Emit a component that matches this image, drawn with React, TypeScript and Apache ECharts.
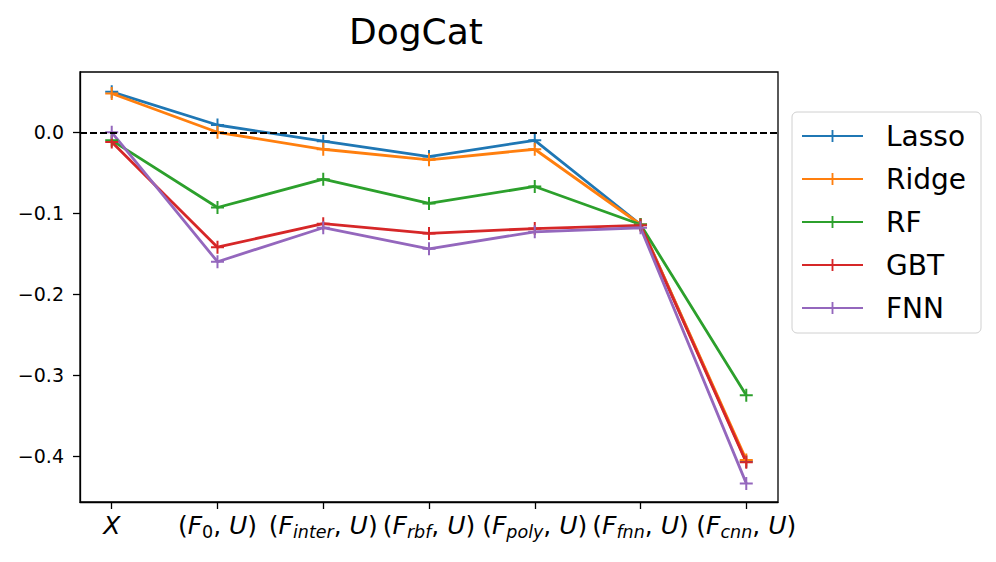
import React, { useEffect, useRef } from "react";
import * as echarts from "echarts";

const categories = ["X", "(F0,U)", "(Finter,U)", "(Frbf,U)", "(Fpoly,U)", "(Ffnn,U)", "(Fcnn,U)"];
const categoryLabels = [
  "{i|X}",
  "{n|(}{i|F}{s|0}{n|,}{i| U}{n|)}",
  "{n|(}{i|F}{si|inter}{n|,}{i| U}{n|)}",
  "{n|(}{i|F}{si|rbf}{n|,}{i| U}{n|)}",
  "{n|(}{i|F}{si|poly}{n|,}{i| U}{n|)}",
  "{n|(}{i|F}{si|fnn}{n|,}{i| U}{n|)}",
  "{n|(}{i|F}{si|cnn}{n|,}{i| U}{n|)}",
];
const seriesNames = ["Lasso", "Ridge", "RF", "GBT", "FNN"];
const lasso = [0.05, 0.009, -0.011, -0.03, -0.01, -0.114, -0.407];
const ridge = [0.048, 0.0, -0.021, -0.034, -0.021, -0.114, -0.405];
const rf = [-0.01, -0.093, -0.058, -0.088, -0.067, -0.114, -0.325];
const gbt = [-0.012, -0.142, -0.113, -0.125, -0.119, -0.115, -0.408];
const fnn = [0.0, -0.16, -0.118, -0.144, -0.123, -0.118, -0.434];
const yTicks = [-0.4, -0.3, -0.2, -0.1, 0];
const xTicks = [0, 1, 2, 3, 4, 5, 6];
const colors = ["#1f77b4", "#ff7f0e", "#2ca02c", "#d62728", "#9467bd"];

const PLUS = "path://M5.5,0H7.5V5.5H13V7.5H7.5V13H5.5V7.5H0V5.5H5.5Z";
const FONT = "DejaVu Sans";

export default function App() {
  const ref = useRef<HTMLDivElement>(null);
  useEffect(() => {
    if (!ref.current) return;
    const chart = echarts.init(ref.current, null, { renderer: "svg" });
    const allValues = [lasso, ridge, rf, gbt, fnn];
    const series: any[] = seriesNames.map((name, k) => ({
      name,
      type: "line",
      data: allValues[k].map((v, i) => [i, v]),
      symbol: PLUS,
      symbolSize: 13,
      showSymbol: true,
      lineStyle: { color: colors[k], width: 2.8 },
      itemStyle: { color: colors[k] },
      emphasis: { disabled: true },
    }));
    series[4].markLine = {
      silent: true,
      symbol: ["none", "none"],
      label: { show: false },
      lineStyle: { color: "#000", type: [7, 3], width: 2 },
      data: [{ yAxis: 0 }],
      z: 10,
    };
    chart.setOption({
      animation: false,
      backgroundColor: "#fff",
      title: {
        text: "DogCat",
        left: 344,
        top: 8,
        textStyle: { fontFamily: FONT, fontSize: 36, fontWeight: "normal", color: "#000" },
      },
      legend: {
        data: seriesNames,
        orient: "vertical",
        left: 792,
        top: 112,
        itemWidth: 61,
        itemHeight: 15,
        itemGap: 13,
        backgroundColor: "#fff",
        borderColor: "#d0d0d0",
        borderWidth: 1,
        borderRadius: 5,
        padding: [9, 15, 10, 9],
        textStyle: { fontFamily: FONT, fontSize: 28, color: "#000", lineHeight: 30, padding: [0, 0, 0, 18] },
      },
      grid: {
        left: 80,
        right: 218,
        top: 72,
        bottom: 60,
        show: true,
        borderColor: "#000",
        borderWidth: 1.3,
        backgroundColor: "transparent",
      },
      xAxis: {
        type: "value",
        min: -0.3,
        max: 6.3,
        splitLine: { show: false },
        axisLine: { show: true, onZero: false, lineStyle: { color: "#000", width: 1.3 } },
        axisTick: { show: true, length: 7, lineStyle: { color: "#000", width: 1.3 }, customValues: xTicks },
        axisLabel: {
          customValues: xTicks,
          margin: 7,
          fontFamily: FONT,
          fontSize: 25,
          color: "#000",
          formatter: (v: number) => categoryLabels[Math.round(v)] || "",
          rich: {
            n: { fontFamily: FONT, fontSize: 25, color: "#000", lineHeight: 32, verticalAlign: "middle" },
            i: { fontFamily: FONT, fontSize: 25, fontStyle: "italic", color: "#000", lineHeight: 32, verticalAlign: "middle" },
            s: { fontFamily: FONT, fontSize: 17.5, color: "#000", lineHeight: 18, verticalAlign: "bottom" },
            si: { fontFamily: FONT, fontSize: 17.5, fontStyle: "italic", color: "#000", lineHeight: 18, verticalAlign: "bottom" },
          },
        },
      },
      yAxis: {
        type: "value",
        min: -0.457,
        max: 0.0745,
        splitLine: { show: false },
        axisLine: { show: true, onZero: false, lineStyle: { color: "#000", width: 1.3 } },
        axisTick: { show: true, length: 7, lineStyle: { color: "#000", width: 1.3 }, customValues: yTicks },
        axisLabel: {
          customValues: yTicks,
          margin: 16,
          fontFamily: FONT,
          fontSize: 19,
          color: "#000",
          formatter: (v: number) => (Math.abs(v) < 1e-9 ? "0.0" : (v < 0 ? "\u2212" : "") + Math.abs(v).toFixed(1)),
        },
      },
      series,
    });
    return () => chart.dispose();
  }, []);
  return (
    <div
      ref={ref}
      style={{ position: "fixed", left: 0, top: 0, width: 996, height: 562, background: "#fff" }}
    />
  );
}
